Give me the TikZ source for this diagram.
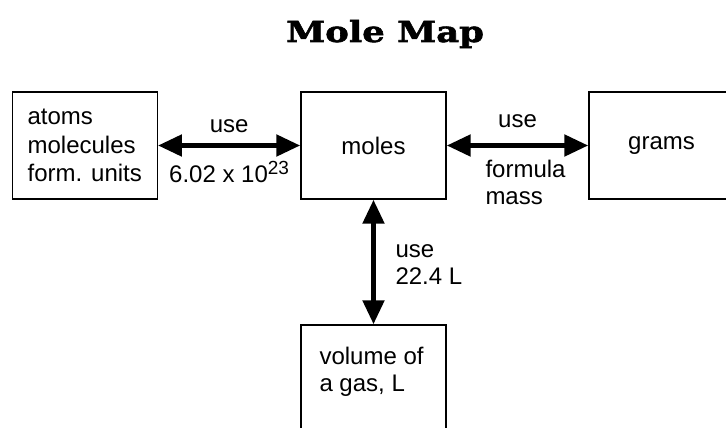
\documentclass[tikz,border=0pt]{standalone}
\usepackage{fontspec}
\setmainfont{Liberation Sans}
\newfontfamily\titlefont[FakeStretch=1.22,FakeBold=2]{DejaVu Serif}
\usetikzlibrary{arrows.meta,positioning}

\begin{document}
\begin{tikzpicture}[
  x=1pt, y=-1pt, line join=miter,
  >={Triangle[length=24pt,width=21pt]},
  box/.style={draw, line width=1.4pt, minimum width=145pt, minimum height=107pt,
              align=left, font=\fontsize{24}{28.5}\selectfont},
  conv/.style={<->, line width=5pt},
  lbl/.style={inner sep=0pt, align=left, font=\fontsize{24}{27}\selectfont}
]

  \useasboundingbox (0,0) rectangle (726,428);
  \clip (0,0) rectangle (726,428);

  % ── Title ─────────────────────────────────────────────────────────────────

  \node[anchor=base, font=\titlefont\fontsize{29}{32}\bfseries\selectfont]
      (title) at (385,42) {Mole Map};

  % ── Boxes ─────────────────────────────────────────────────────────────────

  \node[box] (count) at (84.75,145.5) {atoms\\molecules\\form. units};
  \node[box] (moles) at (373.5,145.5) {moles};
  \node[box] (grams) at (661.5,145.5) {grams};
  \node[box] (gas)   at (373.5,378.5) {};
  \node[lbl, anchor=north west] (gastxt)
      at ([xshift=19pt,yshift=-22.5pt]gas.north west) {volume of\\a gas, L};

  % ── Conversions ───────────────────────────────────────────────────────────

  % count <-> moles
  \draw[conv] (count) -- (moles)
    node[lbl, midway, anchor=base, yshift=13pt] (use1) {use}
    node[lbl, midway, anchor=base, yshift=-37pt] (avo)
        {6.02 x 10\raisebox{8pt}{\fontsize{19}{19}\selectfont 23}};

  % moles <-> grams
  \draw[conv] (moles) -- (grams)
    node[lbl, midway, anchor=base, yshift=18pt] (use2) {use}
    node[lbl, midway, anchor=north west, xshift=-34.5pt, yshift=-12.5pt] (fmass)
        {formula\\mass};

  % moles <-> volume
  \draw[conv] (moles) -- (gas)
    node[lbl, midway, anchor=north west, xshift=19.5pt, yshift=20pt] (use3)
        {use\\22.4 L};

\end{tikzpicture}
\end{document}
